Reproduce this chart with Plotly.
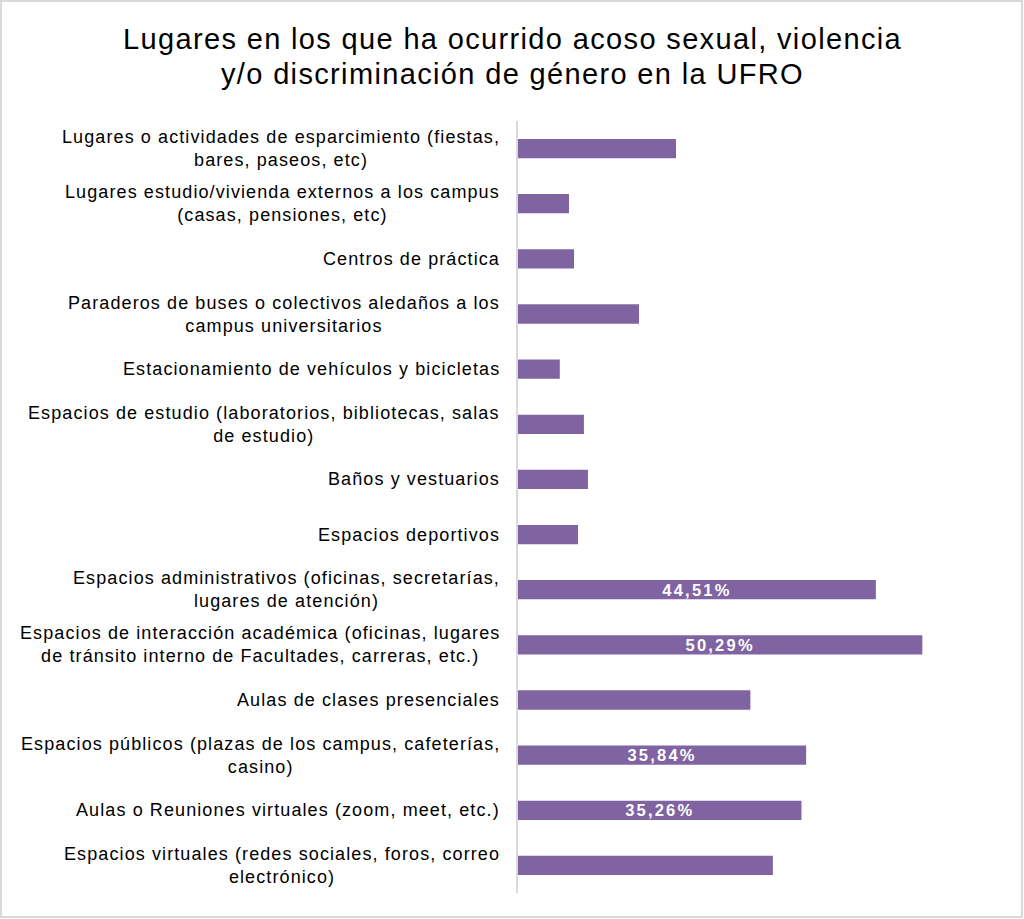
import plotly.graph_objects as go

categories = [
    "Lugares o actividades de esparcimiento (fiestas,<br>bares, paseos, etc)",
    "Lugares estudio/vivienda externos a los campus<br>(casas, pensiones, etc)",
    "Centros de práctica",
    "Paraderos de buses o colectivos aledaños a los<br>campus universitarios",
    "Estacionamiento de vehículos y bicicletas",
    "Espacios de estudio (laboratorios, bibliotecas, salas<br>de estudio)",
    "Baños y vestuarios",
    "Espacios deportivos",
    "Espacios administrativos (oficinas, secretarías,<br>lugares de atención)",
    "Espacios de interacción académica (oficinas, lugares<br>de tránsito interno de Facultades, carreras, etc.)",
    "Aulas de clases presenciales",
    "Espacios públicos (plazas de los campus, cafeterías,<br>casino)",
    "Aulas o Reuniones virtuales (zoom, meet, etc.)",
    "Espacios virtuales (redes sociales, foros, correo<br>electrónico)",
]
values = [19.65, 6.34, 6.97, 15.05, 5.2, 8.2, 8.7, 7.46, 44.51, 50.29, 28.9, 35.84, 35.26, 31.7]
bar_labels = ["", "", "", "", "", "", "", "", "44,51%", "50,29%", "", "35,84%", "35,26%", ""]
title_lines = [
    "Lugares en los que ha ocurrido acoso sexual, violencia",
    "y/o discriminación de género en la UFRO",
]

W, H = 1024, 919
L, R, T, B = 518, 24, 121, 26
pw, ph = W - L - R, H - T - B
FONT = "Liberation Sans, Arial"


def spaced(s, px):
    return '<span style="letter-spacing:%spx">%s</span>' % (px, s)


fig = go.Figure()
fig.add_trace(go.Bar(
    y=categories, x=values, orientation="h",
    marker=dict(color="#8064A2", line=dict(width=0)),
    width=0.35,
    text=[spaced(t, 2.2) if t else "" for t in bar_labels],
    textposition="inside", insidetextanchor="middle", constraintext="none",
    textfont=dict(family=FONT, size=16.5, color="white", weight="bold"),
    textangle=0, cliponaxis=False, hoverinfo="skip",
))

for c in categories:
    fig.add_annotation(
        x=0, xref="paper", y=c, yref="y",
        text="<br>".join(spaced(p, 1.1) for p in c.split("<br>")),
        showarrow=False, xanchor="right", yanchor="middle", align="center", xshift=-16,
        font=dict(family=FONT, size=18, color="#000000"),
    )

# title lines
for line, ypix in zip(title_lines, [39, 74]):
    fig.add_annotation(
        x=(W / 2 - L) / pw, xref="paper", xanchor="center",
        y=(T + ph - ypix) / ph, yref="paper", yanchor="middle",
        text=spaced(line, 1.35), showarrow=False,
        font=dict(family=FONT, size=29, color="#000000"),
    )

# outer border
fig.add_shape(type="rect", xref="paper", yref="paper",
              x0=(1 - L) / pw, x1=(W - 2 - L) / pw,
              y0=-(H - 2 - (T + ph)) / ph, y1=(T + ph - 1) / ph,
              line=dict(color="#d9d9d9", width=2), fillcolor="rgba(0,0,0,0)", layer="below")

fig.update_layout(
    width=W, height=H,
    margin=dict(l=L, r=R, t=T, b=B),
    paper_bgcolor="white", plot_bgcolor="white",
    showlegend=False,
    xaxis=dict(range=[0, pw / 8.04], showgrid=False, zeroline=False, showticklabels=False,
               showline=False, ticks=""),
    yaxis=dict(autorange="reversed", showticklabels=False, showgrid=False, ticks="",
               showline=True, linecolor="#d9d9d9", linewidth=2),
)

fig.write_html("out.html")
